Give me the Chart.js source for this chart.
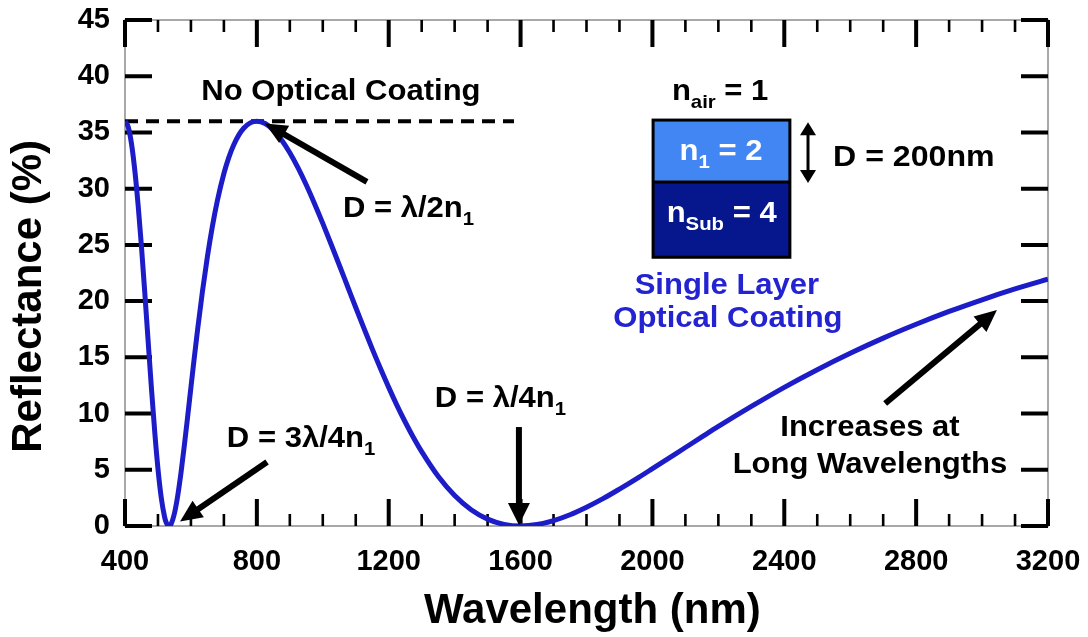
<!DOCTYPE html>
<html>
<head>
<meta charset="utf-8">
<script src="https://cdn.jsdelivr.net/npm/chart.js@4.4.1/dist/chart.umd.min.js"></script>
<style>
  html, body { margin: 0; padding: 0; background: #fff; }
  #wrap { width: 1088px; height: 637px; position: relative; }
</style>
</head>
<body>
<div id="wrap"><canvas id="reflectanceChart"></canvas></div>
<script>
// wavelength (nm) and reflectance (%)
const wavelengths = [400, 410, 420, 430, 440, 450, 460, 470, 480, 490,
    500, 510, 520, 525, 533, 540, 550, 560, 570, 580,
    590, 600, 610, 620, 635, 650, 665, 680, 700, 715,
    730, 745, 760, 780, 800, 825, 850, 875, 900, 925,
    950, 975, 1000, 1025, 1050, 1075, 1100, 1125, 1150, 1175,
    1200, 1225, 1250, 1275, 1300, 1350, 1400, 1450, 1500, 1550,
    1600, 1650, 1700, 1750, 1800, 1850, 1900, 1950, 2000, 2050,
    2100, 2150, 2200, 2300, 2400, 2500, 2600, 2700, 2800, 2900,
    3000, 3100, 3200];
const reflectance = [36.0, 35.46, 33.94, 31.56, 28.47, 24.82, 20.77, 16.52, 12.33, 8.44,
    5.10, 2.51, 0.81, 0.31, 0.0, 0.19, 1.13, 2.71, 4.77, 7.16,
    9.71, 12.33, 14.92, 17.41, 20.88, 23.96, 26.64, 28.91, 31.35, 32.78,
    33.90, 34.76, 35.37, 35.85, 36.0, 35.79, 35.21, 34.33, 33.19, 31.84,
    30.32, 28.66, 26.91, 25.08, 23.21, 21.32, 19.43, 17.58, 15.75, 14.01,
    12.33, 10.73, 9.25, 7.87, 6.61, 4.42, 2.71, 1.45, 0.61, 0.14,
    0.0, 0.13, 0.48, 1.00, 1.67, 2.43, 3.28, 4.17, 5.10, 6.04,
    6.98, 7.92, 8.85, 10.63, 12.33, 13.90, 15.36, 16.71, 17.94, 19.08,
    20.12, 21.08, 21.95];

// uncoated reference level (dashed line)
const noCoatingX = [400, 1580];
const noCoatingR = [36, 36];

const xTicks = [400, 800, 1200, 1600, 2000, 2400, 2800, 3200];
const yTicks = [0, 5, 10, 15, 20, 25, 30, 35, 40, 45];

const FONT = '"Liberation Sans", Arial, sans-serif';
const CURVE_BLUE = '#1c1cc8';

function drawRich(ctx, parts, x, y, align, color, size) {
    const stretch = 1.07;
    const main = 'bold ' + size + 'px ' + FONT;
    const sub = 'bold ' + Math.round(size * 0.66) + 'px ' + FONT;
    let w = 0;
    parts.forEach(p => {
        ctx.font = p[1] ? sub : main;
        w += ctx.measureText(p[0]).width;
    });
    w *= stretch;
    let start = align === 'center' ? x - w / 2 : x;
    ctx.save();
    ctx.translate(start, y);
    ctx.scale(stretch, 1);
    ctx.fillStyle = color;
    ctx.textAlign = 'left';
    ctx.textBaseline = 'alphabetic';
    let cx = 0;
    parts.forEach(p => {
        ctx.font = p[1] ? sub : main;
        ctx.fillText(p[0], cx, p[1] ? size * 0.27 : 0);
        cx += ctx.measureText(p[0]).width;
    });
    ctx.restore();
}

function arrowHead(ctx, x1, y1, x2, y2, len, half) {
    const a = Math.atan2(y2 - y1, x2 - x1);
    ctx.beginPath();
    ctx.moveTo(x2, y2);
    ctx.lineTo(x2 - len * Math.cos(a) + half * Math.sin(a), y2 - len * Math.sin(a) - half * Math.cos(a));
    ctx.lineTo(x2 - len * Math.cos(a) - half * Math.sin(a), y2 - len * Math.sin(a) + half * Math.cos(a));
    ctx.closePath();
    ctx.fill();
}

function arrow(ctx, x1, y1, x2, y2, lw, len, half) {
    const a = Math.atan2(y2 - y1, x2 - x1);
    ctx.save();
    ctx.strokeStyle = '#000';
    ctx.fillStyle = '#000';
    ctx.lineWidth = lw;
    ctx.beginPath();
    ctx.moveTo(x1, y1);
    ctx.lineTo(x2 - (len - 2) * Math.cos(a), y2 - (len - 2) * Math.sin(a));
    ctx.stroke();
    arrowHead(ctx, x1, y1, x2, y2, len, half);
    ctx.restore();
}

const frameAndTicks = {
    id: 'frameAndTicks',
    beforeDatasetsDraw(chart) {
        const {ctx, chartArea: a, scales: {x, y}} = chart;
        ctx.save();
        ctx.strokeStyle = '#8c8c8c';
        ctx.lineWidth = 1.5;
        ctx.strokeRect(a.left, a.top, a.right - a.left, a.bottom - a.top);

        ctx.strokeStyle = '#000';
        ctx.lineCap = 'butt';
        ctx.lineWidth = 4;
        yTicks.forEach(v => {
            const py = y.getPixelForValue(v);
            ctx.beginPath();
            ctx.moveTo(a.left, py); ctx.lineTo(a.left + 27, py);
            ctx.moveTo(a.right, py); ctx.lineTo(a.right - 27, py);
            ctx.stroke();
        });
        for (let v = 400; v <= 3200; v += 100) {
            const px = x.getPixelForValue(v);
            const major = v % 400 === 0;
            const len = major ? 27 : 12;
            ctx.lineWidth = major ? 4 : 2.6;
            ctx.beginPath();
            ctx.moveTo(px, a.bottom); ctx.lineTo(px, a.bottom - len);
            ctx.moveTo(px, a.top); ctx.lineTo(px, a.top + len);
            ctx.stroke();
        }
        ctx.restore();
    },
    afterDatasetsDraw(chart) {
        const {ctx, scales: {x, y}} = chart;
        const X = v => x.getPixelForValue(v);
        const Y = v => y.getPixelForValue(v);
        const S = 29;

        // annotations
        drawRich(ctx, [['No Optical Coating']], X(1055), Y(37.9), 'center', '#000', S);
        drawRich(ctx, [['D = \u03bb/2n'], ['1', true]], X(1061), Y(27.5), 'left', '#000', S);
        drawRich(ctx, [['D = 3\u03bb/4n'], ['1', true]], X(709), Y(7.0), 'left', '#000', S);
        drawRich(ctx, [['D = \u03bb/4n'], ['1', true]], X(1340), Y(10.6), 'left', '#000', S);
        drawRich(ctx, [['Increases at']], X(2660), Y(8.0), 'center', '#000', S);
        drawRich(ctx, [['Long Wavelengths']], X(2660), Y(4.7), 'center', '#000', S);

        arrow(ctx, X(1134), Y(30.6), X(825), Y(35.8), 6, 22, 10);
        arrow(ctx, X(831), Y(5.7), X(567), Y(0.4), 6, 22, 10);
        arrow(ctx, X(1595), Y(8.8), X(1595), Y(0.1), 6, 22, 11);
        arrow(ctx, X(2706), Y(10.9), X(3045), Y(19.2), 6, 22, 10);

        // layer stack inset
        const bx1 = X(2002), bx2 = X(2417);
        const by1 = Y(36.1), by2 = Y(30.6), by3 = Y(23.9);
        ctx.save();
        ctx.fillStyle = '#4286f4';
        ctx.fillRect(bx1, by1, bx2 - bx1, by2 - by1);
        ctx.fillStyle = '#06168c';
        ctx.fillRect(bx1, by2, bx2 - bx1, by3 - by2);
        ctx.strokeStyle = '#000';
        ctx.lineWidth = 3;
        ctx.strokeRect(bx1, by1, bx2 - bx1, by3 - by1);
        ctx.beginPath();
        ctx.moveTo(bx1, by2); ctx.lineTo(bx2, by2);
        ctx.stroke();
        ctx.restore();

        drawRich(ctx, [['n'], ['air', true], [' = 1']], X(2059), Y(37.9), 'left', '#000', S);
        drawRich(ctx, [['n'], ['1', true], [' = 2']], X(2208), Y(32.55), 'center', '#fff', S);
        drawRich(ctx, [['n'], ['Sub', true], [' = 4']], X(2210), Y(27.0), 'center', '#fff', S);
        drawRich(ctx, [['D = 200nm']], X(2548), Y(32.0), 'left', '#000', 30);
        drawRich(ctx, [['Single Layer']], X(2226), Y(20.6), 'center', '#2323d2', S);
        drawRich(ctx, [['Optical Coating']], X(2229), Y(17.7), 'center', '#2323d2', S);

        // thickness double arrow
        const dx = X(2472), dy1 = Y(35.9), dy2 = Y(30.5);
        ctx.save();
        ctx.strokeStyle = '#000';
        ctx.fillStyle = '#000';
        ctx.lineWidth = 3;
        ctx.beginPath();
        ctx.moveTo(dx, dy1 + 10); ctx.lineTo(dx, dy2 - 10);
        ctx.stroke();
        arrowHead(ctx, dx, dy2, dx, dy1, 13, 8);
        arrowHead(ctx, dx, dy1, dx, dy2, 13, 8);
        ctx.restore();
    }
};

const ctx = document.getElementById('reflectanceChart');

new Chart(ctx, {
    type: 'line',
    data: {
        datasets: [{
            data: wavelengths.map((w, i) => ({x: w, y: reflectance[i]})),
            borderColor: CURVE_BLUE,
            borderWidth: 5,
            pointRadius: 0,
            cubicInterpolationMode: 'monotone',
            fill: false,
        }, {
            data: noCoatingX.map((w, i) => ({x: w, y: noCoatingR[i]})),
            borderColor: '#000',
            borderWidth: 4,
            borderDash: [13, 8],
            pointRadius: 0,
            fill: false,
        }],
    },
    options: {
        responsive: true,
        maintainAspectRatio: false,
        animation: false,
        layout: {
            padding: {top: 20, right: 40, left: 0, bottom: 0}
        },
        plugins: {
            legend: {display: false},
            tooltip: {enabled: false},
        },
        scales: {
            x: {
                type: 'linear',
                min: 400,
                max: 3200,
                afterBuildTicks: s => { s.ticks = xTicks.map(v => ({value: v})); },
                afterFit: s => {
                    s.height = 111;
                    s.paddingLeft = 0;
                    s.paddingRight = 0;
                },
                grid: {display: false, drawTicks: false},
                border: {display: false},
                ticks: {
                    color: '#000',
                    padding: 19,
                    maxRotation: 0,
                    callback: v => String(v),
                    font: {family: FONT, size: 29, weight: 'bold'},
                },
                title: {
                    display: true,
                    // leading space nudges the title a little right, as in the original
                    text: ' Wavelength (nm)',
                    color: '#000',
                    padding: {top: 7, bottom: 0},
                    font: {family: FONT, size: 42, weight: 'bold'},
                },
            },
            y: {
                min: 0,
                max: 45,
                afterBuildTicks: s => { s.ticks = yTicks.map(v => ({value: v})); },
                afterFit: s => {
                    s.width = 125;
                    s.paddingTop = 0;
                    s.paddingBottom = 0;
                },
                grid: {display: false, drawTicks: false},
                border: {display: false},
                ticks: {
                    color: '#000',
                    padding: 15,
                    callback: v => String(v),
                    font: {family: FONT, size: 29, weight: 'bold'},
                },
                title: {
                    display: true,
                    // trailing spaces push the rotated title down to where it sits in the original
                    text: 'Reflectance (%)    ',
                    color: '#000',
                    padding: {top: 4, bottom: 0},
                    font: {family: FONT, size: 42, weight: 'bold'},
                },
            },
        },
    },
    plugins: [frameAndTicks]
});
</script>
</body>
</html>
